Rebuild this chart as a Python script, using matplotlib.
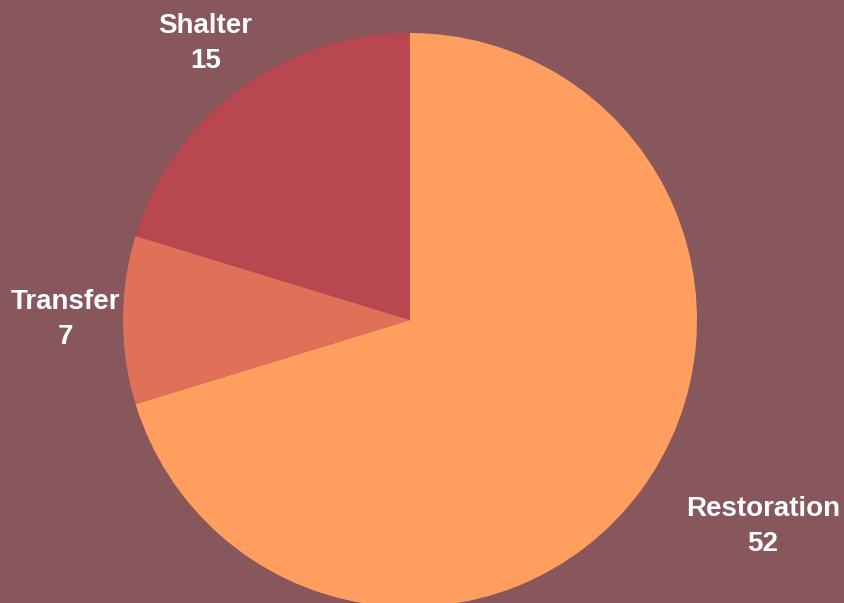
import matplotlib.pyplot as plt

labels = ['Restoration', 'Transfer', 'Shalter']
values = [52, 7, 15]
colors = ['#FF9E5E', '#E07058', '#B84750']
bg = '#87575C'


def main():
    fig = plt.figure(figsize=(8.44, 6.03), dpi=100, facecolor=bg)
    ax = fig.add_axes([0, 0, 1, 1])
    ax.set_facecolor(bg)

    texts = ax.pie(values, colors=colors, startangle=90, counterclock=False,
                   labels=[f'{l}\n{v}' for l, v in zip(labels, values)],
                   labeldistance=1.2,
                   textprops=dict(color='white', fontsize=20, fontweight='bold',
                                  family=['Liberation Sans', 'DejaVu Sans'],
                                  linespacing=1.45))[1]
    for t in texts:
        t.set_ha('center')
        t.set_va('center')
    # restoration label is pushed in to stay on the canvas
    texts[0].set_position((1.23, -0.718))

    ax.set_xlim(-410 / 287, 434 / 287)
    ax.set_ylim(-283 / 287, 320 / 287)
    ax.set_aspect('equal')
    ax.axis('off')

    plt.savefig('out.png', dpi=100, facecolor=bg)


if __name__ == '__main__':
    main()
